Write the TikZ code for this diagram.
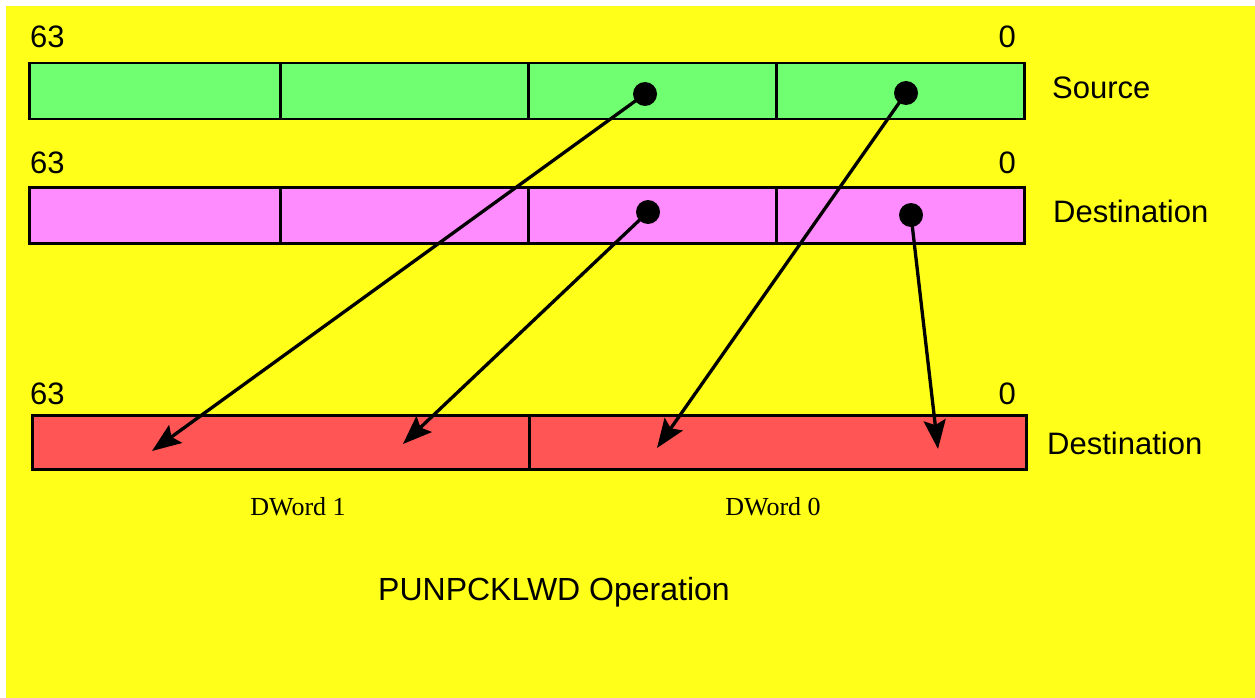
\documentclass[tikz,border=0pt]{standalone}
\usepackage{fontspec}
\setmainfont{Liberation Serif}
\newfontfamily\arialf{Liberation Sans}
\usetikzlibrary{arrows.meta}
\definecolor{bgyellow}{RGB}{255,255,26}
\definecolor{srcgreen}{RGB}{112,255,112}
\definecolor{dstpink}{RGB}{255,140,255}
\definecolor{resred}{RGB}{255,85,85}
\tikzset{
  cell/.style={draw=black, line width=2.5pt, inner sep=0pt, minimum height=56pt, anchor=north west},
  rescell/.style={draw=black, line width=2.5pt, inner sep=0pt, minimum height=54pt, minimum width=497pt, anchor=north west, fill=resred},
  dot/.style={circle, fill=black, inner sep=0pt, minimum size=24pt},
  bitlbl/.style={font=\arialf\fontsize{31}{36}\selectfont, inner sep=0pt},
  rowlbl/.style={font=\arialf\fontsize{31}{36}\selectfont, inner sep=0pt, anchor=base west},
  dwlbl/.style={font=\fontsize{26}{30}\selectfont, inner sep=0pt, anchor=base},
  mover/.style={line width=3.3pt, -{Stealth[length=29pt, width=22pt, inset=5pt]}}
}
\begin{document}
\begin{tikzpicture}[x=1pt,y=-1pt]
\useasboundingbox (0,0) rectangle (1255,698);
\fill[bgyellow] (6,6) rectangle (1255,698);
% Source row
\node[cell, fill=srcgreen, minimum width=251pt] (s3) at (28,62) {};
\node[cell, fill=srcgreen, minimum width=248pt] (s2) at (279,62) {};
\node[cell, fill=srcgreen, minimum width=248pt] (s1) at (527,62) {};
\node[cell, fill=srcgreen, minimum width=248pt] (s0) at (775,62) {};
% Destination row
\node[cell, fill=dstpink, minimum width=251pt] (d3) at (28,186) {};
\node[cell, fill=dstpink, minimum width=248pt] (d2) at (279,186) {};
\node[cell, fill=dstpink, minimum width=248pt] (d1) at (527,186) {};
\node[cell, fill=dstpink, minimum width=248pt] (d0) at (775,186) {};
% Result row
\node[rescell] (r1) at (31,414) {};
\node[rescell] (r0) at (528,414) {};
% Bit labels
\node[bitlbl, anchor=base west] (h1) at (30,48) {63};
\node[bitlbl, anchor=base east] (l1) at (1016,48) {0};
\node[bitlbl, anchor=base west] (h2) at (30,173) {63};
\node[bitlbl, anchor=base east] (l2) at (1016,173) {0};
\node[bitlbl, anchor=base west] (h3) at (30,404) {63};
\node[bitlbl, anchor=base east] (l3) at (1016,404) {0};
% Row labels
\node[rowlbl] (srclbl) at (1052,99) {Source};
\node[rowlbl] (dstlbl) at (1053,222) {Destination};
\node[rowlbl] (reslbl) at (1047,454) {Destination};
% DWord labels
\node[dwlbl] (dw1) at (298,515) {DWord 1};
\node[dwlbl] (dw0) at (773,515) {DWord 0};
% Title
\node[font=\arialf\fontsize{32}{37}\selectfont, inner sep=0pt, anchor=base] (title) at (554,600) {PUNPCKLWD Operation};
% Dots
\node[dot] (sd1) at (645,94) {};
\node[dot] (sd0) at (906,93) {};
\node[dot] (dd1) at (648,212) {};
\node[dot] (dd0) at (911,215) {};
% Arrow targets
\coordinate (t3) at (152,451);
\coordinate (t2) at (403,444);
\coordinate (t1) at (657,448);
\coordinate (t0) at (938,449);
% Arrows
\draw[mover] (sd1.center) -- (t3);
\draw[mover] (dd1.center) -- (t2);
\draw[mover] (sd0.center) -- (t1);
\draw[mover] (dd0.center) -- (t0);
\end{tikzpicture}
\end{document}
